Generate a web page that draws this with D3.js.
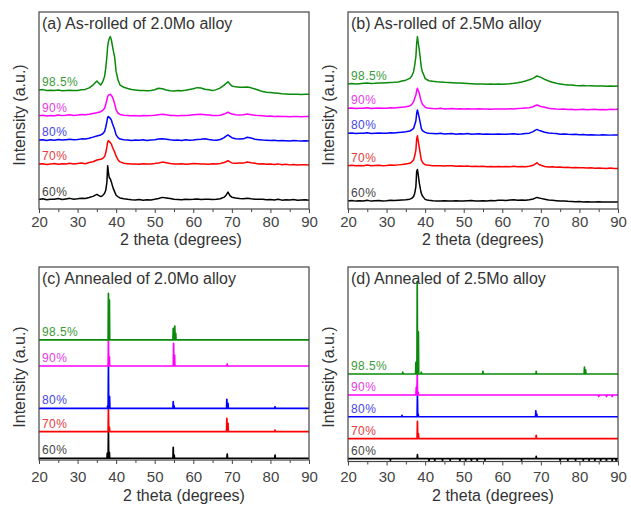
<!DOCTYPE html>
<html>
<head>
<meta charset="utf-8">
<script src="https://cdn.jsdelivr.net/npm/d3@7"></script>
<style>
  body { margin: 0; background: #fff; }
  text { font-family: "Liberation Sans", Arial, sans-serif; }
</style>
</head>
<body>
<svg id="chart" width="631" height="510"></svg>
<script>
// 2 theta positions shared by the as-rolled scans
const thetaRolled = [20,21,22,23,24,25,26,27,28,29,30,31,32,33,34,35,36,
  36.5,37,37.3,37.6,37.8,38,38.2,38.5,38.8,39,39.3,39.6,40,40.5,41,
  42,43,44,45,46,47,48,49,50,51,52,53,54,55,56,57,58,59,60,61,62,63,64,65,66,67,68,
  68.5,69,69.5,70,
  71,72,73,74,75,76,77,78,79,80,81,82,83,84,85,86,87,88,89,90];

const reductions = ['60%', '70%', '80%', '90%', '98.5%'];
const xTicks = [20, 30, 40, 50, 60, 70, 80, 90];
const xMinorTicks = [25, 35, 45, 55, 65, 75, 85];

// (a) as-rolled 2.0Mo, intensity in a.u. (offset traces)
const a60 = [4.8,5.2,4.7,5.0,4.9,5.3,4.8,5.1,5.4,5.0,5.2,5.5,5.3,5.8,6.4,7.4,6.3,
  6.8,8.0,9.5,13.5,22.0,18.5,16.0,15.2,13.5,12.0,10.2,8.8,7.0,6.2,5.6,
  5.2,4.9,4.7,4.6,4.8,4.5,4.7,4.6,4.9,5.3,5.9,5.6,5.3,4.9,4.8,4.7,5.0,4.8,4.9,5.1,4.8,4.9,5.0,4.8,4.9,5.2,6.0,
  7.0,8.6,6.8,6.0,
  5.6,5.3,5.2,5.5,5.2,5.0,4.9,5.0,4.7,4.8,4.6,4.9,4.5,4.7,4.6,4.8,4.5,4.6,4.7,4.5];
const a70 = [22.8,23.0,22.6,22.9,23.1,22.7,23.0,22.8,23.2,22.9,23.1,23.3,23.0,23.6,24.0,24.9,25.2,
  25.6,26.6,28.5,31.5,34.0,34.7,34.2,33.7,32.8,31.6,30.2,29.0,26.8,24.9,23.9,
  23.2,23.0,22.8,22.9,22.7,23.0,22.8,22.9,23.1,23.4,23.8,23.5,23.1,22.9,22.8,23.0,22.7,22.9,23.1,23.0,22.8,22.9,22.7,23.0,22.8,23.1,23.6,
  24.0,24.5,23.9,23.4,
  23.2,23.4,23.3,23.9,23.5,23.2,22.9,23.0,22.7,22.8,22.6,22.9,22.5,22.7,22.4,22.6,22.3,22.5,22.4,22.3];
const a80 = [35.0,35.2,34.8,35.1,34.9,35.3,35.0,35.2,35.4,35.1,35.3,35.6,35.5,35.9,36.5,37.1,37.6,
  38.2,39.3,41.5,44.3,46.5,46.9,46.5,46.0,45.0,43.5,42.0,40.4,37.6,36.2,35.5,
  35.2,35.0,34.8,35.0,34.9,35.1,34.8,35.0,35.2,35.5,35.7,35.4,35.1,34.9,35.0,34.8,35.1,34.9,35.0,35.3,35.4,35.7,35.3,35.0,34.9,35.3,36.2,
  37.0,37.6,36.9,36.2,
  35.7,35.5,35.6,36.4,36.0,35.4,35.2,35.0,34.9,34.8,34.9,34.6,34.8,34.7,34.5,34.8,34.6,34.5,34.7,34.5];
const a90 = [47.4,47.6,47.2,47.5,47.3,47.7,47.4,47.6,47.8,47.5,47.7,48.0,47.9,48.1,48.5,48.9,49.4,
  50.0,51.1,53.0,55.3,57.0,57.9,58.0,58.2,57.5,57.0,55.5,53.6,50.3,48.6,48.0,
  47.6,47.5,47.3,47.4,47.2,47.5,47.3,47.4,47.6,47.9,48.1,47.8,47.5,47.4,47.3,47.5,47.4,47.6,47.8,48.0,48.1,47.9,47.7,47.5,47.4,47.6,48.2,
  48.7,49.1,48.6,48.2,
  47.9,47.7,47.9,48.2,47.9,47.6,47.4,47.3,47.1,47.2,47.0,47.1,46.9,47.0,46.8,47.0,46.9,46.8,47.0,46.9];
const a98 = [60.4,60.6,60.2,60.3,60.1,60.4,60.0,60.2,60.3,60.1,60.2,60.5,60.7,61.5,62.9,65.0,62.9,
  64.5,67.2,71.5,77.3,82.5,84.9,86.5,87.5,85.5,83.2,80.0,77.3,69.7,65.5,62.9,
  61.8,61.2,60.7,60.4,60.1,60.2,60.0,60.2,60.5,61.3,61.0,60.4,60.0,59.9,60.1,60.0,60.3,60.7,61.0,61.6,61.4,60.8,60.5,60.1,60.6,61.5,62.9,
  63.8,64.6,63.5,62.4,
  62.0,61.8,61.8,61.9,61.5,60.9,60.3,59.6,59.3,59.1,58.9,58.7,58.5,58.4,58.2,58.3,58.2,58.1,58.2,58.2];

// (b) as-rolled 2.5Mo
const b60 = [4.1,4.3,4.0,4.2,4.1,4.4,4.0,4.2,4.3,4.1,4.2,4.4,4.3,4.5,4.6,4.7,5.0,
  5.4,6.3,8.0,11.3,19.0,20.1,17.5,13.0,9.8,8.0,6.6,5.9,4.9,4.6,4.4,
  4.2,4.1,4.0,4.2,4.1,4.0,4.2,4.1,4.0,4.2,4.3,4.1,4.0,4.2,4.1,4.3,4.2,4.4,4.5,4.3,4.6,4.7,4.5,4.6,4.5,4.7,5.1,
  5.5,5.9,5.6,5.4,
  5.0,4.6,4.4,4.2,4.0,4.1,3.9,3.8,3.7,3.8,3.6,3.7,3.6,3.5,3.7,3.6,3.5,3.6,3.5,3.6];
const b70 = [22.0,22.2,21.9,22.1,22.0,22.3,21.9,22.1,22.2,22.0,22.1,22.3,22.2,22.4,22.6,22.9,23.2,
  23.8,24.9,27.0,29.9,35.5,37.2,34.5,31.0,27.4,24.9,23.8,23.0,22.5,22.3,22.2,
  22.0,21.9,22.0,21.8,21.9,22.0,21.7,21.8,21.7,21.8,21.6,21.7,21.6,21.7,21.5,21.6,21.5,21.6,21.5,21.6,21.5,21.7,21.5,21.6,21.5,21.7,22.2,
  22.8,23.5,22.6,22.2,
  21.6,21.3,21.4,21.2,21.3,21.1,21.2,21.0,21.1,20.9,21.0,20.8,20.9,20.7,20.8,20.7,20.6,20.8,20.6,20.6];
const b80 = [38.4,38.6,38.3,38.5,38.4,38.7,38.3,38.5,38.6,38.4,38.5,38.7,38.6,38.8,39.0,39.2,39.6,
  40.1,40.9,42.8,44.8,48.5,50.3,48.6,46.0,43.1,40.9,39.8,39.4,38.9,38.6,38.4,
  38.3,38.2,38.4,38.1,38.2,38.3,38.0,38.2,38.1,38.3,38.0,38.1,38.2,38.0,38.1,37.9,38.0,38.1,37.9,38.0,38.1,38.2,38.0,38.1,38.3,38.5,39.3,
  39.9,40.4,39.9,39.6,
  39.0,38.6,38.4,38.3,38.0,38.1,37.9,37.8,37.9,37.7,37.8,37.6,37.7,37.6,37.5,37.7,37.6,37.5,37.6,37.6];
const b90 = [51.1,51.3,51.0,51.2,51.1,51.4,51.0,51.2,51.3,51.1,51.2,51.4,51.3,51.5,51.7,51.9,52.3,
  53.0,54.5,56.2,57.9,60.0,61.3,60.2,58.7,55.8,54.6,53.2,52.5,51.6,51.3,51.2,
  51.0,50.9,51.1,50.8,50.9,51.0,50.8,50.9,50.8,50.9,50.7,50.8,50.9,50.7,50.8,50.6,50.7,50.8,50.7,50.8,50.9,50.8,51.0,51.1,51.3,51.4,51.9,
  52.4,52.8,52.4,52.0,
  51.6,51.1,50.9,50.7,50.6,50.7,50.5,50.6,50.4,50.5,50.6,50.4,50.5,50.6,50.4,50.5,50.4,50.6,50.5,50.6];
const b98 = [63.5,63.7,63.4,63.6,63.8,63.9,63.7,63.8,64.0,63.9,64.1,64.2,64.3,64.5,65.0,65.4,66.3,
  67.4,69.7,73.0,77.3,84.0,87.5,84.5,80.5,75.5,72.0,69.5,68.3,66.3,65.6,65.1,
  64.8,64.6,64.5,64.3,64.2,64.1,64.0,63.9,63.8,63.7,63.6,63.5,63.4,63.5,63.3,63.4,63.3,63.4,63.3,63.5,63.6,63.8,64.1,64.5,65.0,65.6,66.3,
  67.0,67.5,67.2,66.8,
  65.8,65.0,64.3,63.8,63.5,63.2,63.0,62.9,62.7,62.6,62.7,62.5,62.6,62.4,62.5,62.4,62.3,62.4,62.3,62.4];

// (c) annealed 2.0Mo, [2theta, intensity]
const c60 = [[20,0.9],[37.62,0.9],[37.7,3.5],[37.78,0.9],[37.92,0.9],[38.0,15.0],[38.08,0.9],[38.17,0.9],[38.25,4.0],[38.33,0.9],
  [54.72,0.9],[54.8,6.6],[54.88,0.9],[54.97,0.9],[55.05,2.5],[55.13,0.9],[68.72,0.9],[68.8,3.1],[68.88,0.9],
  [81.12,0.9],[81.2,2.6],[81.28,0.9],[90,0.9]];
const c70 = [[20,14.7],[37.92,14.7],[38.0,26.8],[38.08,14.7],[38.17,14.7],[38.25,17.0],[38.33,14.7],
  [68.62,14.7],[68.7,21.6],[68.78,14.7],[68.92,14.7],[69.0,19.0],[69.08,14.7],[81.12,14.7],[81.2,15.5],[81.28,14.7],[90,14.7]];
const c80 = [[20,26.8],[37.72,26.8],[37.8,28.0],[37.88,26.8],[37.92,26.8],[38.0,48.4],[38.08,26.8],[38.22,26.8],[38.3,32.8],[38.38,26.8],
  [54.72,26.8],[54.8,30.2],[54.88,26.8],[54.95,26.8],[55.03,28.0],[55.11,26.8],
  [68.62,26.8],[68.7,31.4],[68.78,26.8],[68.92,26.8],[69.0,29.4],[69.08,26.8],[81.12,26.8],[81.2,27.6],[81.28,26.8],[90,26.8]];
const c90 = [[20,48.7],[37.92,48.7],[38.0,62.2],[38.08,48.7],[38.17,48.7],[38.25,53.5],[38.33,48.7],
  [54.82,48.7],[54.9,60.4],[54.98,48.7],[55.07,48.7],[55.15,54.4],[55.23,48.7],[68.72,48.7],[68.8,49.7],[68.88,48.7],[90,48.7]];
const c98 = [[20,62.2],[37.92,62.2],[38.0,86.4],[38.08,62.2],[38.17,62.2],[38.25,82.9],[38.33,62.2],
  [54.72,62.2],[54.8,68.2],[54.88,62.2],[55.12,62.2],[55.2,69.4],[55.3,62.2],[55.37,62.2],[55.45,65.6],[55.53,62.2],[90,62.2]];

// (d) annealed 2.5Mo
const d60 = [[20,1.5],[30.9,1.5],[31,0.6],[31.1,1.5],[37.92,1.5],[38.0,3.5],[38.08,1.5],
  [40.9,1.5],[41,0.5],[41.1,1.5],[42.4,1.5],[42.5,0.5],[42.6,1.5],[44.4,1.5],[44.5,0.4],[44.6,1.5],
  [46.4,1.5],[46.5,0.5],[46.6,1.5],[48.9,1.5],[49,0.4],[49.1,1.5],[50.4,1.5],[50.5,0.5],[50.6,1.5],
  [51.9,1.5],[52,0.4],[52.1,1.5],[53.4,1.5],[53.5,0.5],[53.6,1.5],[55.4,1.5],[55.5,0.6],[55.6,1.5],
  [64.9,1.5],[65,0.6],[65.1,1.5],[68.72,1.5],[68.8,2.6],[68.88,1.5],
  [74.9,1.5],[75,0.5],[75.1,1.5],[76.9,1.5],[77,0.5],[77.1,1.5],[78.9,1.5],[79,0.4],[79.1,1.5],
  [80.9,1.5],[81,0.5],[81.1,1.5],[82.4,1.5],[82.5,0.4],[82.6,1.5],[83.9,1.5],[84,0.5],[84.1,1.5],
  [85.4,1.5],[85.5,0.4],[85.6,1.5],[86.9,1.5],[87,0.5],[87.1,1.5],[88.4,1.5],[88.5,0.4],[88.6,1.5],
  [89.4,1.5],[89.5,0.5],[89.6,1.5],[90,1.5]];
const d70 = [[20,11.8],[37.92,11.8],[38.0,20.6],[38.08,11.8],[38.17,11.8],[38.25,14.4],[38.33,11.8],
  [68.72,11.8],[68.8,13.5],[68.88,11.8],[90,11.8]];
const d80 = [[20,23.0],[33.92,23.0],[34.0,23.7],[34.08,23.0],[37.92,23.0],[38.0,33.9],[38.08,23.0],[38.12,23.0],[38.2,24.4],[38.28,23.0],
  [68.62,23.0],[68.7,26.1],[68.78,23.0],[68.87,23.0],[68.95,24.4],[69.03,23.0],[90,23.0]];
const d90 = [[20,34.2],[37.62,34.2],[37.7,38.2],[37.78,34.2],[37.87,34.2],[37.95,44.8],[38.03,34.2],[38.12,34.2],[38.2,35.6],[38.28,34.2],
  [84.9,34.2],[85,33.4],[85.1,34.2],[86.9,34.2],[87,33.4],[87.1,34.2],[88.4,34.2],[88.5,33.4],[88.6,34.2],[90,34.2]];
const d98 = [[20,45.0],[34.12,45.0],[34.2,45.9],[34.28,45.0],[37.52,45.0],[37.6,51.0],[37.68,45.0],[37.87,45.0],[37.95,92.5],[38.03,45.0],
  [38.17,45.0],[38.25,66.6],[38.33,45.0],[38.92,45.0],[39.0,45.9],[39.08,45.0],[54.92,45.0],[55.0,46.4],[55.08,45.0],
  [68.72,45.0],[68.8,46.4],[68.88,45.0],[81.22,45.0],[81.3,48.5],[81.38,45.0],[81.52,45.0],[81.6,47.1],[81.68,45.0],[90,45.0]];

const lineColors = ['#000000', '#ff0000', '#0000ff', '#ff00ff', '#0a8a0a'];
const labelColors = ['#444444', '#e63c3c', '#4646e6', '#e33ee3', '#3a9a3a'];

const rolled = vals => thetaRolled.map((t, i) => [t, vals[i]]);

const panels = [
  { title: '(a) As-rolled of 2.0Mo alloy', x0: 39, y0: 12, x1: 309, y1: 209, width: 1.5,
    series: [a60, a70, a80, a90, a98].map(rolled), pad: 3.5, xtx: 181, xty: 245, ytx: 24.5, yty: 115 },
  { title: '(b) As-rolled of 2.5Mo alloy', x0: 348, y0: 12, x1: 618, y1: 209, width: 1.5,
    series: [b60, b70, b80, b90, b98].map(rolled), pad: 3.5, xtx: 483, xty: 245, ytx: 333.5, yty: 115 },
  { title: '(c) Annealed of 2.0Mo alloy', x0: 39, y0: 267, x1: 309, y1: 460, width: 1.7,
    series: [c60, c70, c80, c90, c98], pad: 7.5, xtx: 184, xty: 501, ytx: 24.5, yty: 377 },
  { title: '(d) Annealed of 2.5Mo alloy', x0: 348, y0: 267, x1: 618, y1: 461.5, width: 1.7,
    series: [d60, d70, d80, d90, d98], pad: 6, xtx: 493, xty: 501, ytx: 333.5, yty: 377 }
];

const svg = d3.select('#chart');
svg.append('rect').attr('width', 631).attr('height', 510).attr('fill', '#fff');

panels.forEach(p => {
  const w = p.x1 - p.x0, h = p.y1 - p.y0;
  const x = d3.scaleLinear().domain([20, 90]).range([0, w]);
  const y = d3.scaleLinear().domain([0, 100]).range([h, 0]);
  const g = svg.append('g').attr('transform', `translate(${p.x0},${p.y0})`);

  const line = d3.line().x(d => x(d[0])).y(d => y(d[1]));

  g.selectAll('path.trace')
    .data(p.series)
    .join('path')
    .attr('class', 'trace')
    .attr('d', line)
    .attr('fill', 'none')
    .attr('stroke', (d, i) => lineColors[i])
    .attr('stroke-width', p.width)
    .attr('stroke-linejoin', 'round');

  g.selectAll('text.lab')
    .data(p.series)
    .join('text')
    .attr('class', 'lab')
    .attr('x', 3)
    .attr('y', d => y(d[0][1]) - 4)
    .attr('fill', (d, i) => labelColors[i])
    .attr('font-size', 12)
    .attr('letter-spacing', 0.4)
    .text((d, i) => reductions[i]);

  g.append('text')
    .attr('x', 3).attr('y', 16.5)
    .attr('font-size', 16).attr('fill', '#333')
    .text(p.title);

  g.append('rect')
    .attr('width', w).attr('height', h)
    .attr('fill', 'none').attr('stroke', '#444').attr('stroke-width', 1.2);

  const ax = g.append('g').attr('transform', `translate(0,${h})`)
    .call(d3.axisBottom(x).tickValues(xTicks).tickSize(4).tickSizeOuter(0).tickPadding(p.pad));
  ax.select('.domain').remove();
  ax.selectAll('text').attr('font-size', 15).attr('fill', '#444').attr('font-family', '"Liberation Sans", Arial, sans-serif');
  ax.selectAll('line').attr('stroke', '#444');

  const mx = g.append('g').attr('transform', `translate(0,${h})`)
    .call(d3.axisBottom(x).tickValues(xMinorTicks).tickSize(3).tickFormat(''));
  mx.select('.domain').remove();
  mx.selectAll('line').attr('stroke', '#444');

  svg.append('text')
    .attr('x', p.xtx).attr('y', p.xty)
    .attr('text-anchor', 'middle')
    .attr('font-size', 16).attr('fill', '#333')
    .text('2 theta (degrees)');

  svg.append('text')
    .attr('transform', `translate(${p.ytx},${p.yty}) rotate(-90)`)
    .attr('text-anchor', 'middle')
    .attr('font-size', 16).attr('fill', '#333')
    .text('Intensity (a.u.)');
});
</script>
</body>
</html>
